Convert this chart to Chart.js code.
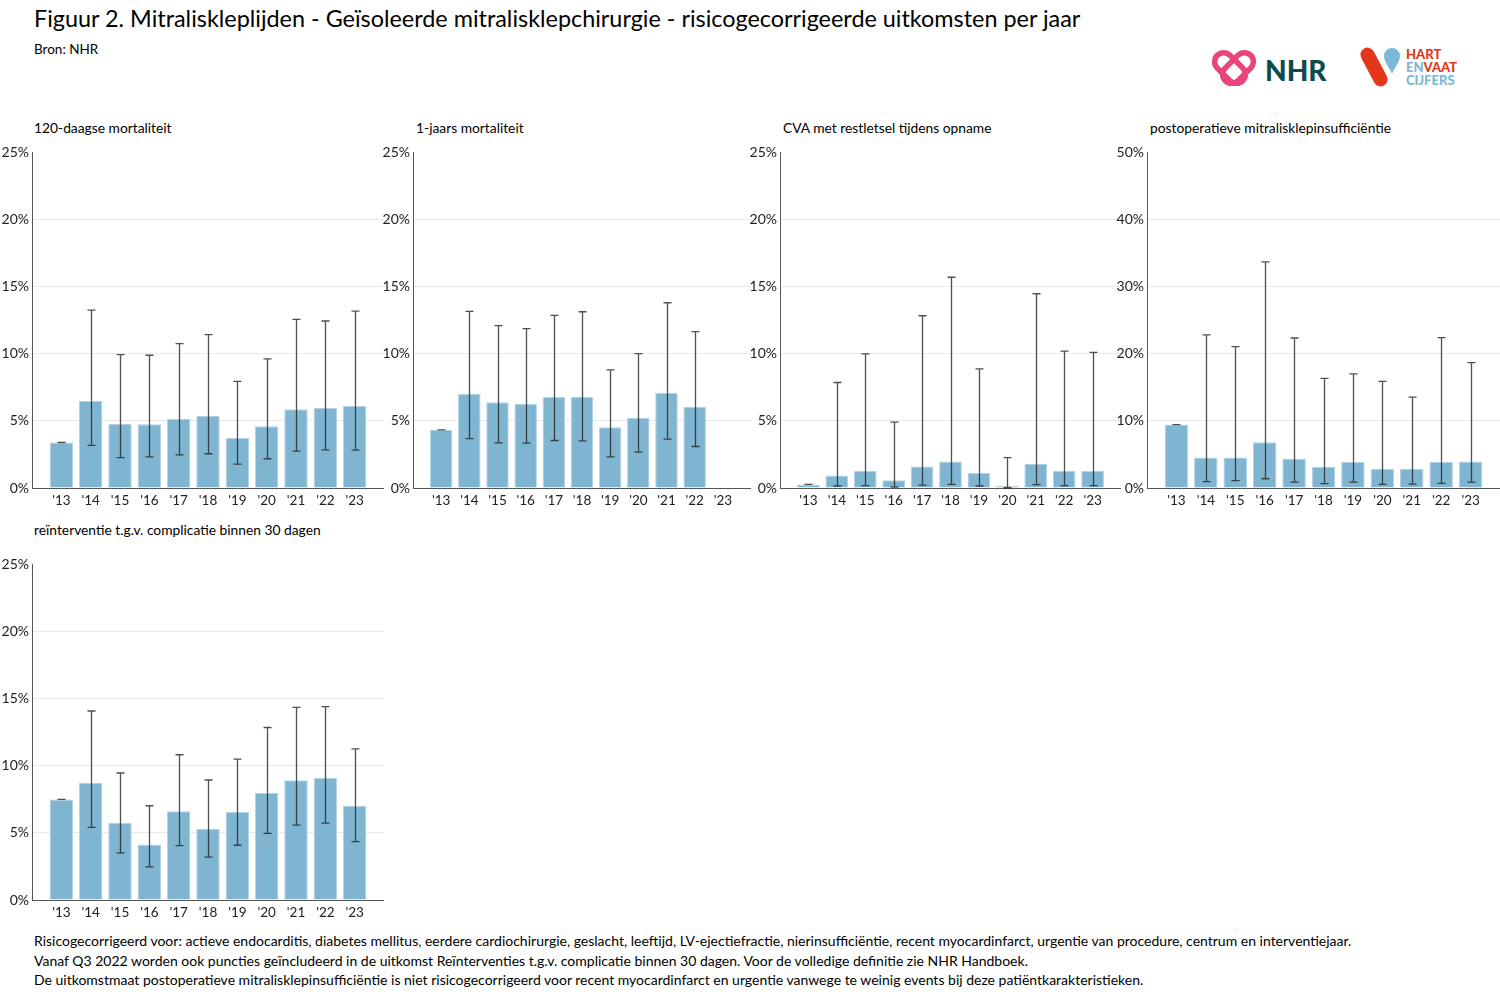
<!DOCTYPE html>
<html>
<head>
<meta charset="utf-8">
<script src="https://cdn.jsdelivr.net/npm/chart.js@4.4.1/dist/chart.umd.min.js"></script>
<style>
body{margin:0;width:1500px;height:1000px;position:relative;overflow:hidden;background:#fff;font-family:Lato,"Open Sans",sans-serif;color:#000}
.abs{position:absolute;white-space:nowrap}
#title{left:34px;top:4px;font-size:23.4px}
#source{left:34px;top:41px;font-size:13.5px}
.sub{font-size:13.8px}
canvas{position:absolute}
#notes{left:34px;top:931px;font-size:14px;line-height:19.5px}
.logo-txt{font-weight:900;font-family:Lato,sans-serif}
</style>
</head>
<body>
<div id="title" class="abs">Figuur 2. Mitraliskleplijden - Geïsoleerde mitralisklepchirurgie - risicogecorrigeerde uitkomsten per jaar</div>
<div id="source" class="abs">Bron: NHR</div>

<svg class="abs" style="left:1210px;top:40px" width="290" height="60">
  <g fill="none" stroke="#e8457a" stroke-width="5.5">
    <rect x="11" y="10" width="18" height="36" rx="9" transform="rotate(-45 20 28)"/>
    <rect x="19" y="10" width="18" height="36" rx="9" transform="rotate(45 28 28)"/>
  </g>
  <text x="55" y="41" class="logo-txt" font-size="28" fill="#0f4b48">NHR</text>
  <rect x="157" y="6" width="14" height="42" rx="7" fill="#e2371b" transform="rotate(-28 164 27)"/>
  <path d="M182 8 a8 8 0 0 1 8 8 c0 6 -6 12 -8 18 c-2 -6 -8 -12 -8 -18 a8 8 0 0 1 8 -8z" fill="#7db8d8"/>
  <text x="196" y="19" class="logo-txt" font-size="13" fill="#e2371b">HART</text>
  <text x="196" y="32" class="logo-txt" font-size="13" fill="#7db8d8">EN<tspan fill="#e2371b">VAAT</tspan></text>
  <text x="196" y="45" class="logo-txt" font-size="13" fill="#7db8d8">CIJFERS</text>
</svg>

<div class="abs sub" style="left:34px;top:119px">120-daagse mortaliteit</div>
<div class="abs sub" style="left:416px;top:119px">1-jaars mortaliteit</div>
<div class="abs sub" style="left:783px;top:119px">CVA met restletsel tijdens opname</div>
<div class="abs sub" style="left:1150px;top:119px">postoperatieve mitralisklepinsufficiëntie</div>
<div class="abs sub" style="left:34px;top:521px">reïnterventie t.g.v. complicatie binnen 30 dagen</div>

<canvas id="c1" width="384" height="369" style="left:0px;top:141px"></canvas>
<canvas id="c2" width="370" height="369" style="left:381px;top:141px"></canvas>
<canvas id="c3" width="373" height="369" style="left:748px;top:141px"></canvas>
<canvas id="c4" width="385" height="369" style="left:1115px;top:141px"></canvas>
<canvas id="c5" width="384" height="369" style="left:0px;top:553px"></canvas>

<div id="notes" class="abs">
Risicogecorrigeerd voor: actieve endocarditis, diabetes mellitus, eerdere cardiochirurgie, geslacht, leeftijd, LV-ejectiefractie, nierinsufficiëntie, recent myocardinfarct, urgentie van procedure, centrum en interventiejaar.<br>
Vanaf Q3 2022 worden ook puncties geïncludeerd in de uitkomst Reïnterventies t.g.v. complicatie binnen 30 dagen. Voor de volledige definitie zie NHR Handboek.<br>
De uitkomstmaat postoperatieve mitralisklepinsufficiëntie is niet risicogecorrigeerd voor recent myocardinfarct en urgentie vanwege te weinig events bij deze patiëntkarakteristieken.
</div>

<script>
const years = ["'13","'14","'15","'16","'17","'18","'19","'20","'21","'22","'23"];

// 120-daagse mortaliteit (%)
const mort120     = [3.39, 6.48, 4.77, 4.75, 5.14, 5.39, 3.73, 4.60, 5.86, 5.96, 6.11];
const mort120Low  = [3.39, 3.17, 2.27, 2.32, 2.47, 2.55, 1.78, 2.18, 2.74, 2.84, 2.82];
const mort120High = [3.39, 13.25, 9.94, 9.89, 10.76, 11.42, 7.94, 9.62, 12.56, 12.44, 13.18];

// 1-jaars mortaliteit (%)
const mort1y     = [4.33, 7.00, 6.38, 6.26, 6.78, 6.80, 4.53, 5.22, 7.10, 6.03, null];
const mort1yLow  = [4.33, 3.68, 3.36, 3.34, 3.54, 3.51, 2.32, 2.67, 3.64, 3.09, null];
const mort1yHigh = [4.33, 13.16, 12.09, 11.87, 12.86, 13.13, 8.80, 10.01, 13.80, 11.65, null];

// CVA met restletsel (%)
const cva     = [0.27, 0.94, 1.26, 0.57, 1.61, 1.98, 1.11, 0.15, 1.80, 1.29, 1.26];
const cvaLow  = [0.27, 0.15, 0.17, 0.07, 0.22, 0.27, 0.15, 0.02, 0.25, 0.17, 0.17];
const cvaHigh = [0.27, 7.86, 9.99, 4.90, 12.83, 15.70, 8.88, 2.27, 14.47, 10.19, 10.11];

// postoperatieve mitralisklepinsufficiëntie (%)
const mi     = [9.45, 4.55, 4.55, 6.83, 4.35, 3.17, 3.86, 2.87, 2.87, 3.86, 3.96];
const miLow  = [9.45, 0.94, 1.09, 1.38, 0.89, 0.64, 0.89, 0.54, 0.59, 0.69, 0.89];
const miHigh = [9.45, 22.80, 21.07, 33.68, 22.35, 16.32, 17.01, 15.88, 13.55, 22.40, 18.69];

// reïnterventie binnen 30 dagen (%)
const reint     = [7.49, 8.72, 5.73, 4.13, 6.62, 5.31, 6.55, 7.98, 8.92, 9.09, 7.02];
const reintLow  = [7.49, 5.41, 3.51, 2.47, 4.05, 3.19, 4.08, 4.97, 5.58, 5.73, 4.35];
const reintHigh = [7.49, 14.08, 9.46, 7.02, 10.82, 8.94, 10.50, 12.85, 14.35, 14.40, 11.26];

const FONT = "Lato, 'Open Sans', sans-serif";

function errorBars(low, high) {
  return {
    id: 'errorBars',
    afterDatasetsDraw(chart) {
      const { ctx, scales: { x, y } } = chart;
      ctx.save();
      ctx.strokeStyle = 'rgba(35,35,35,0.8)';
      ctx.lineWidth = 1.3;
      low.forEach((lo, i) => {
        const hi = high[i];
        if (lo == null || hi == null) return;
        const px = Math.round(x.getPixelForValue(i)) + 0.5;
        const y1 = y.getPixelForValue(lo), y2 = y.getPixelForValue(hi);
        ctx.beginPath();
        ctx.moveTo(px, y1); ctx.lineTo(px, y2);
        ctx.moveTo(px - 4, y1); ctx.lineTo(px + 4, y1);
        ctx.moveTo(px - 4, y2); ctx.lineTo(px + 4, y2);
        ctx.stroke();
      });
      ctx.restore();
    }
  };
}

function makeChart(id, values, low, high, yMax, step) {
  new Chart(document.getElementById(id), {
    type: 'bar',
    data: {
      datasets: [{
        data: values.map((v, i) => ({ x: i, y: v })),
        backgroundColor: '#7fb5d1',
        borderColor: '#b3d3e5',
        borderWidth: 1,
        categoryPercentage: 1,
        barPercentage: 0.8
      }]
    },
    options: {
      responsive: false,
      animation: false,
      devicePixelRatio: 1,
      layout: { padding: { top: 10, right: 0, left: 0, bottom: 0 } },
      plugins: { legend: { display: false }, tooltip: { enabled: false } },
      scales: {
        x: {
          type: 'linear',
          offset: false,
          min: -1,
          max: 11,
          afterFit: s => { s.height = 22; },
          afterBuildTicks: s => { s.ticks = years.map((_, i) => ({ value: i })); },
          grid: { display: false, drawTicks: false },
          border: { display: true, color: '#555', width: 1 },
          ticks: {
            autoSkip: false,
            maxRotation: 0,
            padding: 5,
            color: '#222',
            font: { family: FONT, size: 13.5 },
            callback: v => years[v] ?? ''
          }
        },
        y: {
          min: 0,
          max: yMax,
          afterFit: s => { s.width = 32; },
          grid: {
            drawTicks: false,
            color: c => (c.tick && c.tick.value === yMax) ? 'rgba(0,0,0,0)' : '#e8e8e8'
          },
          border: { display: true, color: '#555', width: 1 },
          ticks: {
            stepSize: step,
            padding: 3,
            color: '#222',
            font: { family: FONT, size: 14 },
            callback: v => v + '%'
          }
        }
      }
    },
    plugins: [errorBars(low, high)]
  });
}

makeChart('c1', mort120, mort120Low, mort120High, 25, 5);
makeChart('c2', mort1y, mort1yLow, mort1yHigh, 25, 5);
makeChart('c3', cva, cvaLow, cvaHigh, 25, 5);
makeChart('c4', mi, miLow, miHigh, 50, 10);
makeChart('c5', reint, reintLow, reintHigh, 25, 5);
</script>
</body>
</html>
